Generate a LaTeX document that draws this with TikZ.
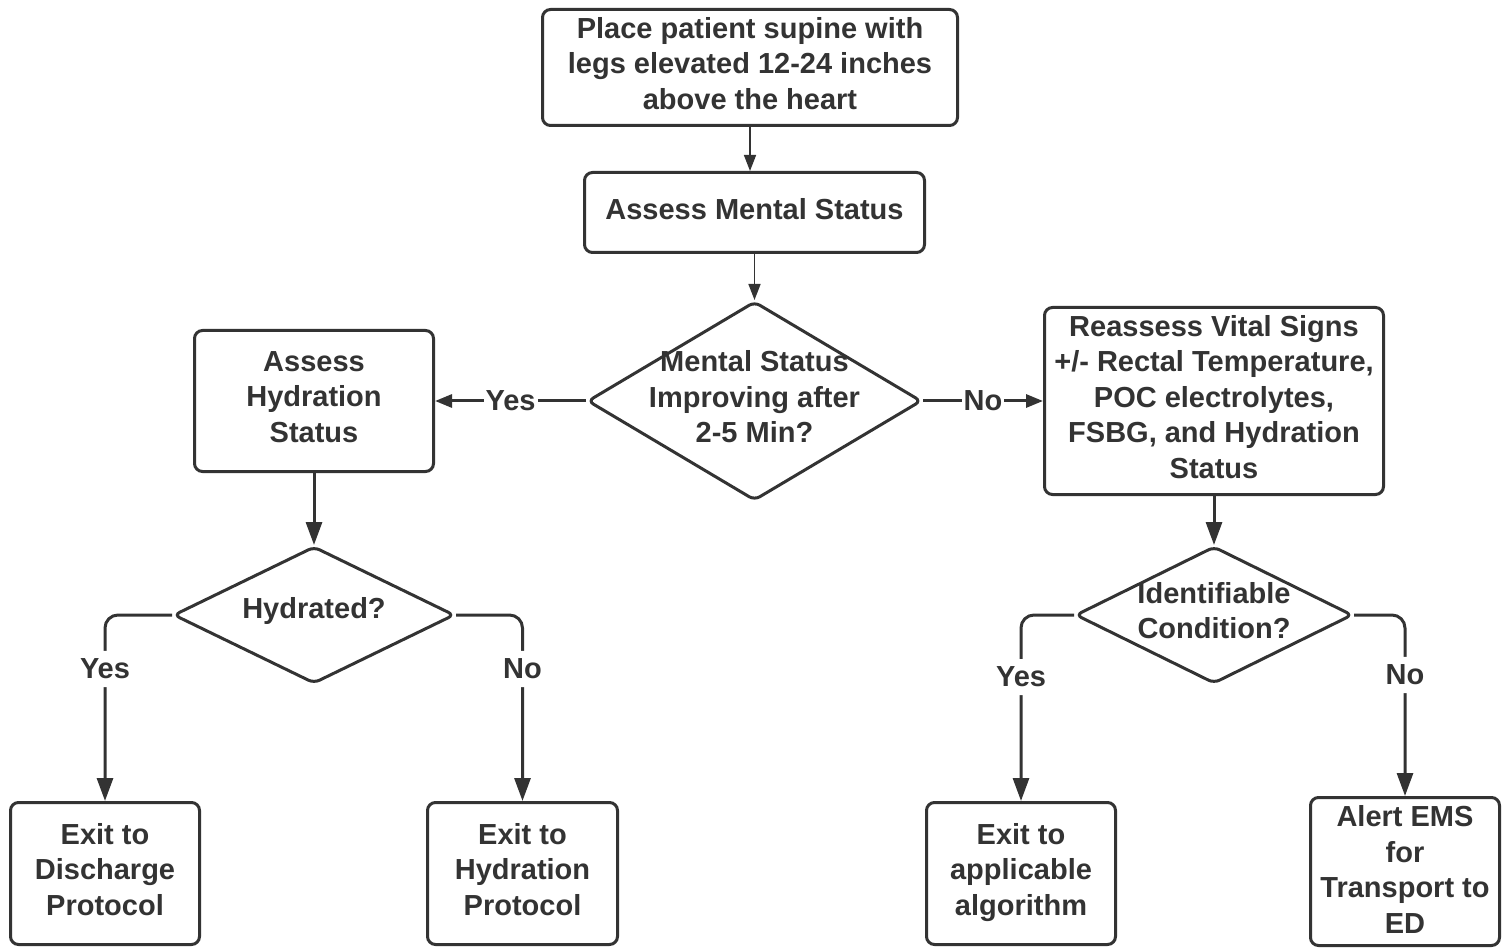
\documentclass[tikz,border=0pt]{standalone}
\usepackage{fontspec}
\setmainfont{Liberation Sans}
\usetikzlibrary{shapes.geometric,arrows.meta}
\definecolor{ink}{HTML}{333333}
\newcommand\mywide{\fontsize{29}{35.5}\selectfont\bfseries}
\tikzset{
  box/.style={draw=ink, line width=3pt, rounded corners=8pt, fill=white, inner sep=0pt},
  dia/.style={draw=ink, shape=diamond, line width=3pt, rounded corners=6pt, inner sep=0pt},
  btext/.style={text=ink, font=\mywide, align=center, inner sep=0pt},
  lab/.style={fill=white, text=ink, font=\mywide, inner xsep=2pt, inner ysep=8pt},
  arr/.style={draw=ink, line width=3pt, -{Triangle[length=23pt,width=16pt]}, rounded corners=13pt},
  harr/.style={draw=ink, line width=3pt, -{Triangle[length=17pt,width=13pt]}},
  thinarr/.style={draw=ink, line width=1.5pt, -{Triangle[length=16pt,width=12pt]}},
}
\begin{document}
\begin{tikzpicture}[x=1pt,y=-1pt]
\useasboundingbox (0,0) rectangle (1510,949);
% boxes
\node[box, minimum width=415pt, minimum height=116pt] (top) at (750,67.5) {};
\node[btext] (topt) at ([yshift=4pt]top.center)
  {Place patient supine with\\legs elevated 12-24 inches\\above the heart};
\node[box, minimum width=340pt, minimum height=80pt] (ms) at (754.5,212.5) {};
\node[btext] (mst) at ([yshift=3.5pt]ms.center) {Assess Mental Status};
\node[box, minimum width=239pt, minimum height=141pt] (ah) at (314,401) {};
\node[btext] (aht) at ([yshift=4pt]ah.center) {Assess\\Hydration\\Status};
\node[box, minimum width=339pt, minimum height=187pt] (rv) at (1214,401) {};
\node[btext] (rvt) at ([yshift=4pt]rv.center)
  {Reassess Vital Signs\\+/- Rectal Temperature,\\POC electrolytes,\\FSBG, and Hydration\\Status};
\node[box, minimum width=189pt, minimum height=142pt] (ex1) at (105,873.5) {};
\node[btext] (ex1t) at ([yshift=4pt]ex1.center) {Exit to\\Discharge\\Protocol};
\node[box, minimum width=190pt, minimum height=142pt] (ex2) at (522.5,873.5) {};
\node[btext] (ex2t) at ([yshift=4pt]ex2.center) {Exit to\\Hydration\\Protocol};
\node[box, minimum width=189pt, minimum height=142pt] (ex3) at (1021,873.5) {};
\node[btext] (ex3t) at ([yshift=1pt]ex3.center) {Exit to\\applicable\\algorithm};
\node[box, minimum width=189pt, minimum height=148pt] (alert) at (1405,871.5) {};
\node[btext] (alertt) at ([yshift=2pt]alert.center) {Alert EMS\\for\\Transport to\\ED};
% diamonds
\node[dia, minimum width=334pt, minimum height=199pt] (d1) at (754.5,401) {};
\node[btext] (d1t) at (754.5,397) {Mental Status\\Improving after\\2-5 Min?};
\node[dia, minimum width=281pt, minimum height=137pt] (d2) at (314,615) {};
\node[btext] (d2t) at (314,611) {Hydrated?};
\node[dia, minimum width=277pt, minimum height=137pt] (d3) at (1214,615) {};
\node[btext] (d3t) at (1214,610.5) {Identifiable\\Condition?};
% connectors
\draw[thinarr] (top.south) -- (top.south |- ms.north);
\draw[thinarr] (ms.south) -- (d1.north);
\draw[harr] (d1.west) -- node[lab] (l1) {Yes} (ah.east);
\draw[harr] (d1.east) -- node[lab] (l2) {No} (rv.west);
\draw[arr] (ah.south) -- (d2.north);
\draw[arr] (rv.south) -- (d3.north);
\draw[arr] (d2.west) -| node[lab, pos=0.645] (l3) {Yes} (ex1.north);
\draw[arr] (d2.east) -| node[lab, pos=0.645] (l4) {No} (ex2.north);
\draw[arr] (d3.west) -| node[lab, pos=0.667] (l5) {Yes} (ex3.north);
\draw[arr] (d3.east) -| node[lab, pos=0.666] (l6) {No} (alert.north);
\end{tikzpicture}
\end{document}
